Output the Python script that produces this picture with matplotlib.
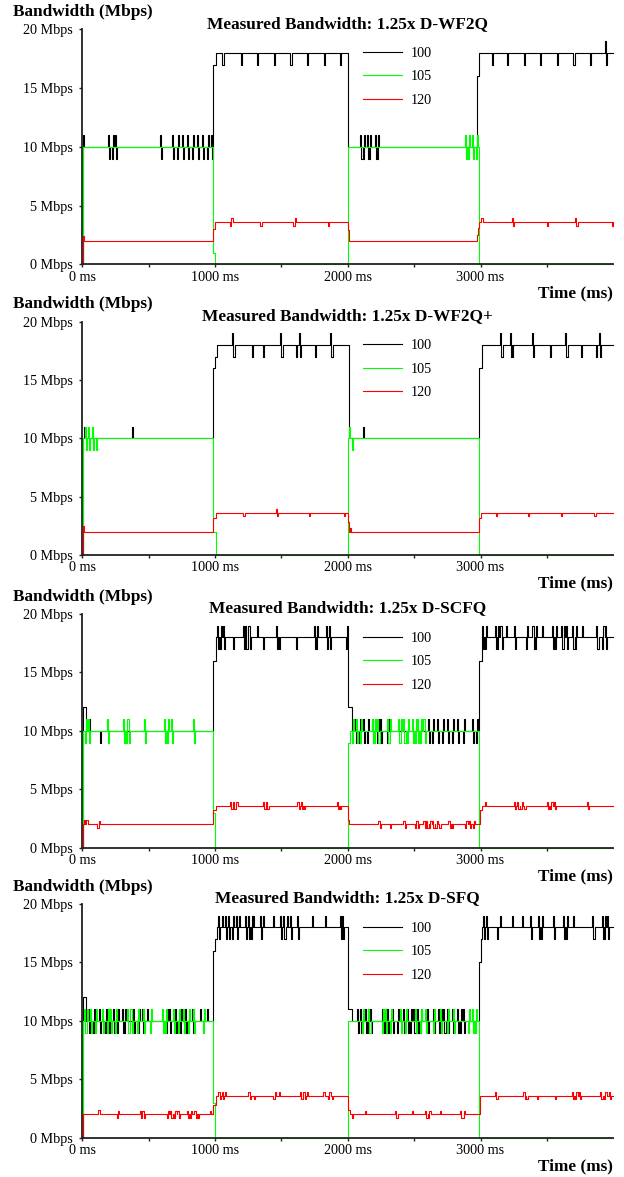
import numpy as np
import matplotlib
matplotlib.use("Agg")
import matplotlib.pyplot as plt
from matplotlib.ticker import FixedLocator, FixedFormatter

plt.rcParams['font.family'] = ['Liberation Serif', 'DejaVu Serif']

# ---------------- data ----------------
TITLES = ['Measured Bandwidth: 1.25x D-WF2Q', 'Measured Bandwidth: 1.25x D-WF2Q+',
          'Measured Bandwidth: 1.25x D-SCFQ', 'Measured Bandwidth: 1.25x D-SFQ']
FLOWS = ['100', '105', '120']
Y_TICKS = [0, 5, 10, 15, 20]
Y_TICK_LABELS = ['0 Mbps', '5 Mbps', '10 Mbps', '15 Mbps', '20 Mbps']
X_TICKS = [0, 1000, 2000, 3000]
X_TICK_LABELS = ['0 ms', '1000 ms', '2000 ms', '3000 ms']
X_MINOR = [500, 1500, 2500, 3500]
T_END = 4000

# each flow: step breakpoints (time ms, Mbps) + short glitches (time, first offset, second offset)
P1_K_T = [0, 4, 985, 1010, 2005, 2975, 2990]
P1_K_V = [0, 10, 17, 18, 10, 16, 18]
P1_K_GL = [(6, 1, 0), (196, 1, -1), (221, -1, 1), (246, 1, -1), (585, 1, -1), (672, 1, -1), (710, -1, 1),
           (748, 1, -1), (785, 1, -1), (823, -1, 1), (861, 1, -1), (898, 1, -1), (936, -1, 1), (968, 1, -1),
           (1056, -1, 0), (1192, -1, 0), (1317, -1, 0), (1443, -1, 0), (1568, -1, 0), (1693, -1, 0),
           (1819, -1, 0), (1939, -1, 0), (2095, 1, -1), (2112, -1, 1), (2143, 1, -1), (2160, -1, 1),
           (2205, 1, -1), (2222, -1, 1), (3088, -1, 0), (3199, -1, 0), (3324, -1, 0), (3449, -1, 0),
           (3574, -1, 0), (3700, -1, 0), (3825, -1, 0), (3940, 1, -1)]
P1_G_T = [0, 5, 988, 1003, 2005, 2985]
P1_G_V = [0, 10, 1, 0, 10, 0]
P1_G_GL = [(2883, 1, -1), (2908, -1, 1), (2938, 1, -1), (2963, -1, 1)]
P1_R_T = [0, 5, 15, 985, 1000, 2003, 2012, 2970, 2980, 2990, 3002, 3015]
P1_R_V = [0, 2.4, 2.0, 3.0, 3.6, 2.9, 2.0, 2.5, 3.1, 3.6, 3.95, 3.6]
P1_R_GL = [(1112, -0.35, 0.3), (1340, -0.3, 0), (1590, -0.35, 0.3), (1851, -0.3, 0),
           (3235, 0.3, -0.35), (3498, -0.3, 0), (3711, 0.3, -0.35), (3990, -0.3, 0)]

P2_K_T = [0, 4, 986, 998, 1011, 2007, 2988, 3008]
P2_K_V = [0, 10, 16, 17, 18, 10, 16, 18]
P2_K_GL = [(10, 1, 0), (372, 1, 0), (1130, 1, -1), (1146, -1, 0), (1275, -1, 0), (1362, -1, 0),
           (1489, 1, -1), (1505, -1, 0), (1612, -1, 0), (1630, 1, -1), (1753, -1, 0), (1866, 1, -1),
           (1882, -1, 0), (2112, 1, 0), (3145, 1, -1), (3160, -1, 0), (3222, 1, -1), (3240, -1, 0),
           (3385, 1, -1), (3523, -1, 0), (3636, 1, -1), (3650, -1, 0), (3757, -1, 0), (3870, -1, 0),
           (3890, 1, -1)]
P2_G_T = [0, 5, 986, 1005, 2005, 2988]
P2_G_V = [0, 10, 2, 0, 10, 0]
P2_G_GL = [(20, 1, -1), (45, 1, -1), (70, 1, -1), (105, -1, 0), (2008, 1, 0), (2030, -1, 0)]
P2_R_T = [0, 5, 12, 985, 1005, 2003, 2012, 2988, 3005]
P2_R_V = [0, 2.5, 2.0, 3.2, 3.6, 2.8, 2.0, 3.2, 3.6]
P2_R_GL = [(1212, -0.3, 0), (1457, 0.35, -0.3), (1708, -0.3, 0), (1972, -0.3, 0), (2015, 0.3, 0),
           (3116, -0.3, 0), (3355, -0.3, 0), (3606, -0.3, 0), (3857, -0.3, 0)]

P3_K_T = [0, 3, 30, 986, 1006, 2004, 2035, 2988, 3008]
P3_K_V = [0, 12, 10, 16, 18, 12, 10, 16, 18]
P3_K_GL = [(53, 1, 0), (133, -1, 0),
           (1015, 1, -1), (1035, -1, 1), (1060, 1, -1), (1133, -1, 0), (1207, 1, -1), (1222, 1, -1),
           (1237, -1, 1), (1252, 1, -1), (1317, 1, 0), (1362, -1, 0), (1460, 1, -1), (1483, -1, 0),
           (1613, -1, 0), (1745, 1, -1), (1762, -1, 1), (1835, 1, -1), (1855, 1, -1), (1985, -1, 1),
           (2054, 1, -1), (2087, -1, 1), (2117, 1, -1), (2143, -1, 1), (2180, 1, -1), (2218, -1, 1),
           (2243, 1, -1), (2298, -1, 1), (2606, 1, -1), (2632, -1, 1), (2669, 1, -1), (2707, -1, 1),
           (2745, 1, -1), (2782, -1, 1), (2820, 1, -1), (2870, -1, 1), (2933, 1, -1), (2962, -1, 1),
           (3012, 1, -1), (3030, -1, 1), (3108, 1, -1), (3125, -1, 1), (3150, 1, -1), (3190, 1, 0),
           (3253, 1, -1), (3341, -1, 1), (3391, 1, -1), (3410, -1, 1), (3466, 1, 0), (3541, 1, -1),
           (3560, -1, 1), (3604, 1, -1), (3620, -1, 1), (3640, 1, -1), (3692, 1, -1), (3712, -1, 1),
           (3767, 1, 0), (3867, 1, -1), (3882, -1, 0), (3918, -1, 1), (3935, 1, -1)]
P3_G_T = [0, 5, 986, 1003, 2004, 2015, 2988]
P3_G_V = [0, 10, 3, 0, 9, 10, 0]
P3_G_GL = [(20, -1, 1), (40, 1, -1), (188, 1, -1), (309, 1, -1), (330, -1, 1), (346, 1, -1), (465, 1, -1),
           (617, 1, -1), (640, -1, 1), (668, 1, -1), (831, 1, -1),
           (2029, -1, 1), (2062, 1, -1), (2092, -1, 1), (2180, 1, -1), (2198, -1, 1), (2223, 1, -1),
           (2298, 1, -1), (2313, -1, 1), (2381, 1, -1), (2394, -1, 1), (2419, 1, -1), (2444, -1, 1),
           (2482, 1, -1), (2507, -1, 1), (2524, 1, -1), (2544, -1, 1), (2570, 1, -1)]
P3_R_T = [0, 5, 985, 1010, 2004, 2012, 2996, 3010]
P3_R_V = [0, 2.0, 3.25, 3.6, 2.4, 2.0, 3.25, 3.6]
P3_R_GL = [(10, 0.4, 0), (30, 0.4, 0), (113, -0.35, 0.3), (1112, 0.3, -0.3), (1135, 0.3, -0.3),
           (1160, 0.3, 0), (1362, 0.3, -0.3), (1385, 0.3, -0.3), (1621, 0.3, -0.3), (1645, 0.3, -0.3),
           (1670, -0.3, 0), (1915, 0.3, -0.3), (1940, -0.3, 0),
           (2230, 0.3, -0.3), (2318, -0.3, 0), (2418, 0.3, -0.3), (2506, -0.3, 0.3), (2530, -0.3, 0),
           (2569, 0.3, -0.3), (2590, 0.3, -0.3), (2612, -0.3, 0.3), (2635, 0.3, -0.3), (2660, -0.3, 0.3),
           (2690, -0.3, 0), (2757, 0.3, -0.3), (2785, -0.3, 0), (2883, -0.3, 0.3), (2910, 0.3, -0.3),
           (2940, -0.3, 0.3), (3033, 0.3, 0), (3250, 0.3, -0.3), (3275, 0.3, -0.3), (3300, -0.3, 0.3),
           (3330, -0.3, 0), (3498, 0.3, -0.3), (3522, -0.3, 0.3), (3550, 0.3, -0.3), (3800, 0.3, -0.3)]

P4_K_T = [0, 3, 25, 986, 1000, 1011, 2004, 2030, 2988, 3000, 3010]
P4_K_V = [0, 12, 10, 16, 17, 18, 11, 10, 15, 17, 18]
P4_K_GL = [(45, 1, -1), (83, -1, 1), (128, 1, -1), (171, -1, 1), (196, 1, -1), (234, 1, -1), (259, -1, 1),
           (297, 1, -1), (314, -1, 1), (384, 1, -1), (422, -1, 1), (447, 1, -1), (485, 1, 0), (631, -1, 1),
           (655, 1, -1), (698, 1, -1), (736, -1, 1), (774, 1, -1), (824, 1, -1), (887, 1, 0), (937, 1, 0),
           (1025, 1, -1), (1050, 1, 0), (1075, 1, -1), (1100, 1, -1), (1125, -1, 1), (1158, 1, -1),
           (1183, 1, 0), (1226, 1, -1), (1250, 1, -1), (1270, -1, 1), (1288, 1, 0), (1337, 1, -1),
           (1363, 1, 0), (1434, 1, 0), (1489, 1, -1), (1515, 1, -1), (1540, 1, 0), (1565, 1, -1),
           (1620, 1, -1), (1728, 1, 0), (1828, 1, 0), (1939, 1, -1), (1958, 1, -1),
           (2067, 1, -1), (2092, 1, -1), (2130, 1, -1), (2147, -1, 1), (2165, 1, -1), (2255, 1, -1),
           (2272, -1, 1), (2293, 1, -1), (2331, 1, -1), (2368, -1, 1), (2418, 1, -1), (2443, 1, -1),
           (2465, -1, 1), (2494, 1, -1), (2519, 1, -1), (2540, -1, 1), (2594, 1, -1), (2644, 1, -1),
           (2682, 1, -1), (2700, -1, 1), (2720, 1, -1), (2745, 1, -1), (2783, 1, -1), (2820, 1, -1),
           (2845, -1, 1), (2870, 1, -1),
           (3021, 1, -1), (3040, 1, -1), (3121, -1, 0), (3146, 1, 0), (3235, 1, 0), (3310, 1, 0),
           (3372, 1, -1), (3435, 1, -1), (3455, -1, 1), (3548, 1, -1), (3623, 1, -1), (3645, -1, 1),
           (3699, 1, 0), (3837, 1, -1), (3852, -1, 0), (3912, 1, -1), (3930, -1, 1), (3950, 1, -1)]
P4_G_T = [0, 5, 986, 1003, 2004, 2988]
P4_G_V = [0, 10, 3, 0, 10, 0]
P4_G_GL = [(12, 1, -1), (28, -1, 1), (58, 1, -1), (96, -1, 1), (146, 1, -1), (184, -1, 1), (209, 1, -1),
           (246, -1, 1), (334, 1, -1), (350, -1, 1), (366, 1, -1), (410, -1, 1), (460, 1, -1), (510, -1, 1),
           (598, 1, -1), (623, -1, 1), (686, 1, -1), (723, -1, 1), (761, 1, -1), (799, -1, 1), (836, 1, -1),
           (911, -1, 1),
           (2105, -1, 1), (2155, 1, -1), (2255, -1, 1), (2280, 1, -1), (2318, -1, 1), (2393, 1, -1),
           (2431, -1, 1), (2506, 1, -1), (2544, -1, 1), (2581, 1, -1), (2644, -1, 1), (2694, 1, -1),
           (2745, -1, 1), (2795, 1, -1), (2908, -1, 1), (2933, 1, -1), (2960, -1, 1)]
P4_R_T = [0, 5, 985, 1005, 2004, 2015, 2996]
P4_R_V = [0, 2.0, 2.8, 3.6, 2.4, 2.0, 3.6]
P4_R_GL = [(121, 0.35, 0), (259, -0.35, 0.3), (435, 0.3, -0.3), (452, 0.3, -0.3), (636, -0.3, 0.3),
           (660, 0.3, -0.3), (690, -0.3, 0.3), (715, 0.3, -0.3), (786, 0.3, -0.3), (810, -0.3, 0.3),
           (845, 0.3, -0.3), (870, -0.3, 0), (962, 0.3, 0),
           (1025, 0.3, -0.3), (1050, 0.3, -0.3), (1075, 0.3, 0), (1250, 0.3, -0.3), (1290, -0.3, 0),
           (1439, -0.3, 0.3), (1480, 0.3, 0), (1640, 0.3, -0.3), (1665, 0.3, -0.3), (1690, 0.3, 0),
           (1815, 0.3, 0), (1850, -0.3, 0.3), (1880, -0.3, 0),
           (2029, -0.3, 0), (2130, 0.3, 0), (2356, 0.3, -0.3), (2481, 0.3, 0), (2581, 0.3, -0.3),
           (2605, -0.3, 0.3), (2694, 0.3, 0), (2845, 0.3, -0.3), (2865, -0.3, 0.3),
           (3109, 0.3, -0.3), (3322, 0.3, -0.3), (3345, -0.3, 0), (3423, -0.3, 0), (3561, -0.3, 0),
           (3686, 0.3, -0.3), (3712, -0.3, 0.3), (3740, 0.3, -0.3), (3900, 0.3, -0.3), (3930, -0.3, 0.3),
           (3965, 0.3, -0.3)]

PANELS = [
    [(P1_K_T, P1_K_V, P1_K_GL), (P1_G_T, P1_G_V, P1_G_GL), (P1_R_T, P1_R_V, P1_R_GL)],
    [(P2_K_T, P2_K_V, P2_K_GL), (P2_G_T, P2_G_V, P2_G_GL), (P2_R_T, P2_R_V, P2_R_GL)],
    [(P3_K_T, P3_K_V, P3_K_GL), (P3_G_T, P3_G_V, P3_G_GL), (P3_R_T, P3_R_V, P3_R_GL)],
    [(P4_K_T, P4_K_V, P4_K_GL), (P4_G_T, P4_G_V, P4_G_GL), (P4_R_T, P4_R_V, P4_R_GL)],
]

# ---------------- style / layout ----------------
COLORS = ['#000000', '#00ff00', '#ff0000']
GLITCH_W = [8, 8, 10]
W_PX, H_PX = 624, 1177
AX_LEFT, AX_RIGHT = 82.3, 613.3
AX_TOPS = [29.3, 321.5, 614.0, 904.0]
AX_BOTS = [264.3, 555.0, 847.7, 1137.7]
BIG = 12.4
SMALL = 10.2


def build_series(bt, bv, gl, w, t_end=T_END):
    bt = np.asarray(bt, float)
    bv = np.asarray(bv, float)

    def base(t):
        return bv[np.searchsorted(bt, t, side='right') - 1]

    edges = set(bt.tolist()) | {t_end}
    for g in gl:
        edges |= {g[0], g[0] + w, g[0] + 2 * w}
    edges = sorted(e for e in edges if e <= t_end)
    vals = []
    for t in edges:
        v = base(t)
        for gt, d1, d2 in gl:
            if gt <= t < gt + w:
                v = base(t) + d1
            elif d2 != 0 and gt + w <= t < gt + 2 * w:
                v = base(t) + d2
        vals.append(v)
    return np.array(edges), np.array(vals)


def fx(px):
    return px / W_PX


def fy(py):
    return 1 - py / H_PX


fig = plt.figure(figsize=(W_PX / 100, H_PX / 100), dpi=100)

for i, panel in enumerate(PANELS):
    top, bot = AX_TOPS[i], AX_BOTS[i]
    ax = fig.add_axes([fx(AX_LEFT), fy(bot), fx(AX_RIGHT) - fx(AX_LEFT), (bot - top) / H_PX])
    handles = []
    for j, (bt, bv, gl) in enumerate(panel):
        t, v = build_series(bt, bv, gl, GLITCH_W[j])
        h, = ax.step(t, v, where='post', color=COLORS[j], lw=0.8, label=FLOWS[j], clip_on=False)
        handles.append(h)
    ax.set_xlim(0, T_END)
    ax.set_ylim(0, 20)
    for s in ['top', 'right']:
        ax.spines[s].set_visible(False)
    for s in ['left', 'bottom']:
        ax.spines[s].set_linewidth(1.3)
        ax.spines[s].set_color('#222222')
    ax.xaxis.set_major_locator(FixedLocator(X_TICKS))
    ax.xaxis.set_major_formatter(FixedFormatter(X_TICK_LABELS))
    ax.xaxis.set_minor_locator(FixedLocator(X_MINOR))
    ax.yaxis.set_major_locator(FixedLocator(Y_TICKS))
    ax.yaxis.set_major_formatter(FixedFormatter(Y_TICK_LABELS))
    ax.tick_params(axis='both', which='both', direction='out', length=2.5, width=1.0,
                   color='#222222', labelsize=SMALL)
    ax.tick_params(axis='y', pad=4.5)
    ax.tick_params(axis='x', pad=2.0)
    ax.patch.set_visible(False)

    ax.legend(handles=handles, loc='upper left', frameon=False, fontsize=SMALL,
              bbox_to_anchor=(fx(362.7), fy(top + 17.5)), bbox_transform=fig.transFigure,
              borderpad=0, borderaxespad=0, handlelength=2.8, handletextpad=0.6,
              labelspacing=0.75)

    fig.text(fx(13.3), fy(top - 17), 'Bandwidth (Mbps)', fontsize=BIG, fontweight='bold',
             ha='left', va='center')
    fig.text(fx((AX_LEFT + AX_RIGHT) / 2), fy(top - 5.5), TITLES[i], fontsize=BIG,
             fontweight='bold', ha='center', va='center')
    fig.text(fx(AX_RIGHT), fy(bot + 28.7), 'Time (ms)', fontsize=BIG, fontweight='bold',
             ha='right', va='center')

fig.savefig('out.png', dpi=100)
